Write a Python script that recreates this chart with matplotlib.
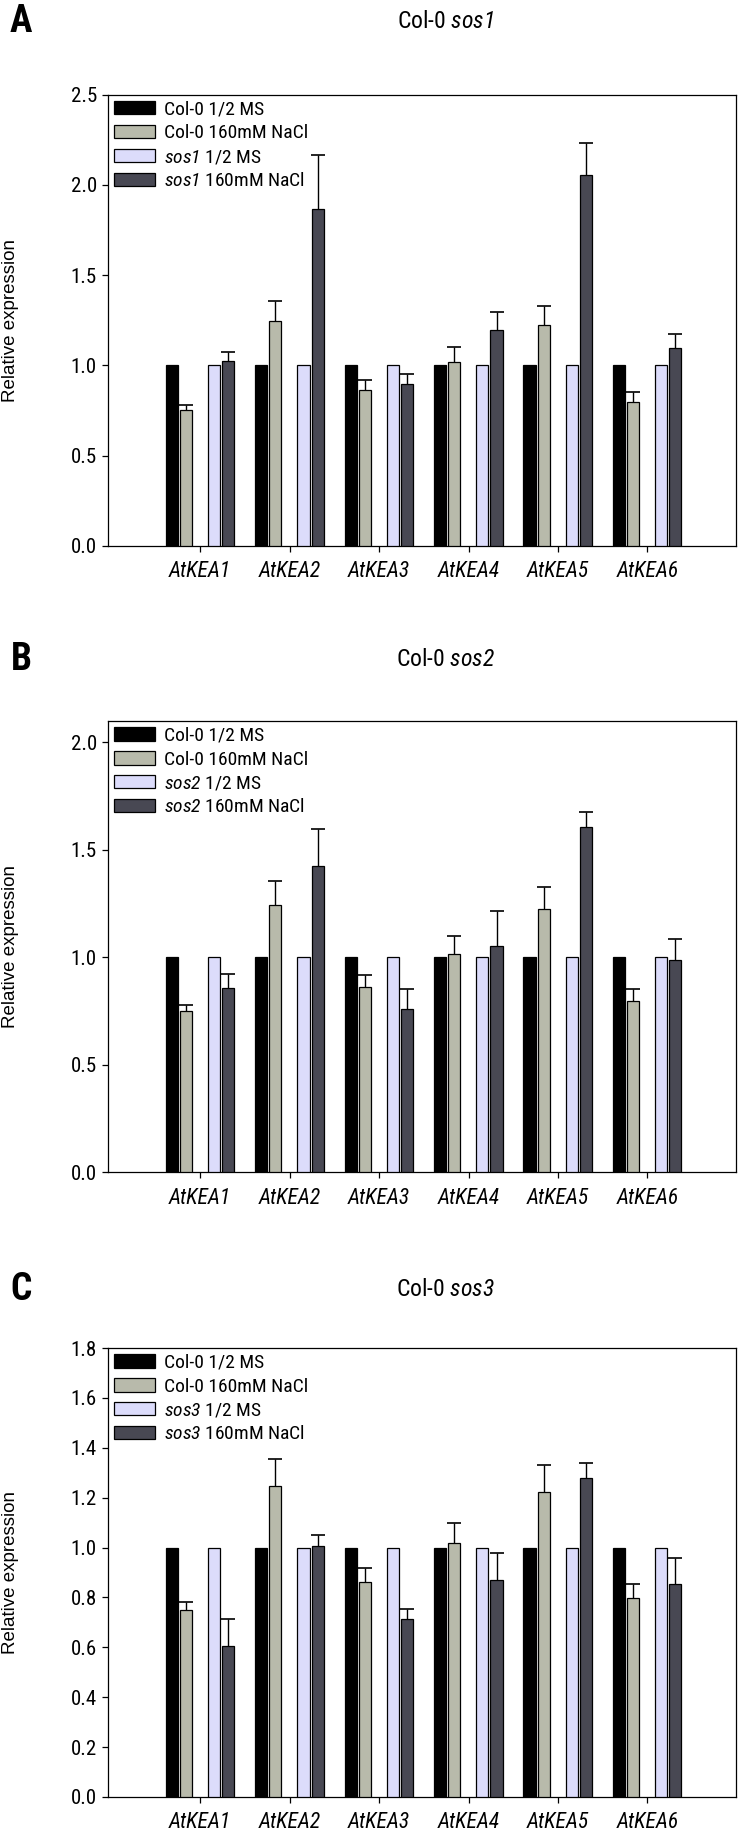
import matplotlib
matplotlib.use("Agg")
import numpy as np
import matplotlib.pyplot as plt
from matplotlib import font_manager
from matplotlib.patches import Patch

# === FONTS ===
# the original uses a condensed Arial-like face; take one if the box has it
names = {f.name for f in font_manager.fontManager.ttflist}
narrow = None
for cand in ['Liberation Sans Narrow', 'Arial Narrow', 'Roboto Condensed',
             'Noto Sans Condensed', 'Open Sans Condensed', 'DejaVu Sans Condensed']:
    if cand in names:
        narrow = cand
        break
if narrow is None:
    for n in sorted(names):
        if ('Condensed' in n or 'Narrow' in n) and 'Mono' not in n and 'Serif' not in n:
            narrow = n
            break
found = narrow is not None
if not found:
    narrow = 'Liberation Sans'

plt.rcParams['font.family'] = [narrow, 'DejaVu Sans']
plt.rcParams['mathtext.fontset'] = 'custom'
# digits inside math use the rm slot, so point both slots at the italic face
plt.rcParams['mathtext.rm'] = narrow + ':italic'
plt.rcParams['mathtext.it'] = narrow + ':italic'

fs_tick = 15 if found else 12
fs_cat = 15.5 if found else 12.5
fs_leg = 14 if found else 11
fs_title = 17 if found else 15

# === DATA ===
genes = ['AtKEA1', 'AtKEA2', 'AtKEA3', 'AtKEA4', 'AtKEA5', 'AtKEA6']

col_ms = [1.0, 1.0, 1.0, 1.0, 1.0, 1.0]
col_nacl = [0.75, 1.245, 0.863, 1.018, 1.224, 0.797]
col_nacl_err = [0.03, 0.11, 0.055, 0.082, 0.105, 0.055]

mut_ms = [1.0, 1.0, 1.0, 1.0, 1.0, 1.0]
sos1_nacl = [1.022, 1.869, 0.895, 1.198, 2.057, 1.098]
sos1_nacl_err = [0.05, 0.294, 0.057, 0.098, 0.178, 0.076]
sos2_nacl = [0.857, 1.427, 0.760, 1.051, 1.609, 0.988]
sos2_nacl_err = [0.067, 0.169, 0.092, 0.163, 0.066, 0.099]
sos3_nacl = [0.607, 1.008, 0.712, 0.871, 1.278, 0.855]
sos3_nacl_err = [0.107, 0.041, 0.041, 0.109, 0.061, 0.104]

mutants = ['sos1', 'sos2', 'sos3']
letters = ['A', 'B', 'C']
ylims = [2.5, 2.1, 1.8]
yticks = [np.arange(0, 2.51, 0.5), np.arange(0, 2.01, 0.5), np.arange(0, 1.81, 0.2)]

colors = ['#000000', '#b8baab', '#dcdcfb', '#484853']
offsets = [-0.318, -0.16, 0.155, 0.313]
width = 0.135

fig = plt.figure(figsize=(7.44, 18.37), dpi=100)
W, H = 744, 1837

# axes boxes in pixel coords: (top, bottom)
boxes = [(94.7, 545.7), (721, 1172.3), (1348, 1797)]
titles_y = [22, 660, 1290]

x = np.arange(len(genes))
for i, mut in enumerate(mutants):
    top, bot = boxes[i]
    ax = fig.add_axes([108 / W, 1 - bot / H, (736 - 108) / W, (bot - top) / H])
    mut_nacl = [sos1_nacl, sos2_nacl, sos3_nacl][i]
    mut_err = [sos1_nacl_err, sos2_nacl_err, sos3_nacl_err][i]
    series = [col_ms, col_nacl, mut_ms, mut_nacl]
    errs = [None, col_nacl_err, None, mut_err]
    for s, vals in enumerate(series):
        xs = x + offsets[s]
        v = np.array(vals)
        ax.bar(xs, v, width=width, color=colors[s], edgecolor='black',
               linewidth=0.9, zorder=3)
        if errs[s] is not None:
            e = np.array(errs[s])
            ax.vlines(xs, v, v + e, color='black', linewidth=1.0, zorder=2)
            ax.plot(xs, v + e, ls='none', marker='_', ms=10.5, mew=1.2,
                    color='black', zorder=2)

    ax.set_xlim(-1.03, 5.99)
    ax.set_ylim(0, ylims[i])
    ax.set_yticks(yticks[i])
    ax.set_yticklabels(['%.1f' % t for t in yticks[i]], fontsize=fs_tick)
    ax.set_xticks(x)
    ax.set_xticklabels(genes, fontsize=fs_cat, fontstyle='italic')
    ax.tick_params(axis='both', direction='out', length=4, width=0.9, pad=4)
    ax.tick_params(axis='x', pad=7)
    for sp in ax.spines.values():
        sp.set_linewidth(0.9)

    ax.set_ylabel('Relative expression', fontsize=13.5, family='Liberation Sans')
    ax.yaxis.set_label_coords(-(108 - 19) / 628, 0.5)

    handles = [Patch(facecolor=c, edgecolor='black', linewidth=0.9) for c in colors]
    labels = ['Col-0 1/2 MS', 'Col-0 160mM NaCl',
              r'$\mathrm{%s}$ 1/2 MS' % mut, r'$\mathrm{%s}$ 160mM NaCl' % mut]
    ax.legend(handles, labels, loc='upper left', bbox_to_anchor=(0.0, 1.0),
              frameon=False, fontsize=fs_leg, handlelength=2.1, handleheight=0.68,
              labelspacing=0.3, handletextpad=0.5, borderaxespad=0.2,
              borderpad=0.1)

    fig.text(21 / W, 1 - titles_y[i] / H, letters[i], fontsize=27,
             fontweight='bold', ha='center', va='center')
    fig.text(445 / W, 1 - titles_y[i] / H, r'Col-0 $\mathrm{%s}$' % mut,
             fontsize=fs_title, ha='center', va='center')

fig.savefig('out.png', dpi=100)
